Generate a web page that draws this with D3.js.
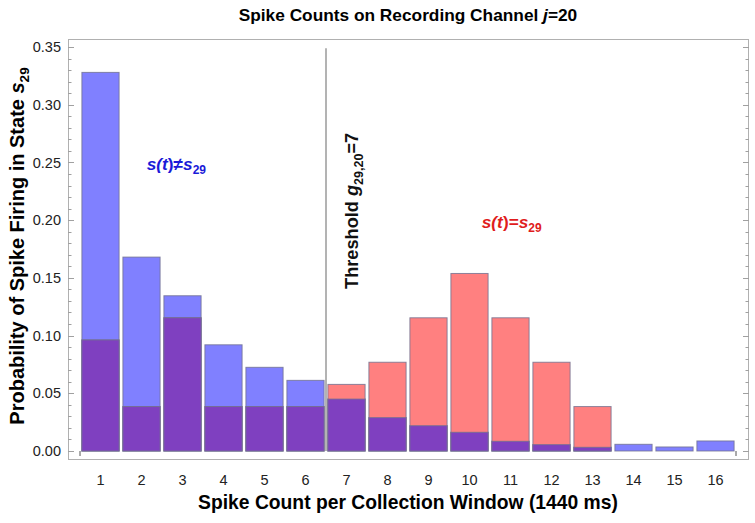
<!DOCTYPE html>
<html>
<head>
<meta charset="utf-8">
<script src="https://cdn.jsdelivr.net/npm/d3@7"></script>
<style>
  body { margin: 0; background: #fff; }
  svg { font-family: "Liberation Sans", Arial, sans-serif; }
</style>
</head>
<body>
<svg id="chart" width="755" height="523"></svg>
<script>
'use strict';

// spike counts 1..16
var counts = [1, 2, 3, 4, 5, 6, 7, 8, 9, 10, 11, 12, 13, 14, 15, 16];
// s(t) != s29  (blue)
var notState = [0.328, 0.168, 0.1345, 0.092, 0.0725, 0.0612, 0.045, 0.0289, 0.0219, 0.0162, 0.0084, 0.0055, 0.0032, 0.0058, 0.0035, 0.0087];
// s(t) = s29  (red)
var inState = [0.0962, 0.0385, 0.1154, 0.0385, 0.0385, 0.0385, 0.0577, 0.0769, 0.1154, 0.1538, 0.1154, 0.0769, 0.0385, 0, 0, 0];
var yTicks = [0, 0.05, 0.10, 0.15, 0.20, 0.25, 0.30, 0.35];
var threshold = 6.5;

var svg = d3.select("#chart");
var frame = {left: 68, right: 748, top: 39, bottom: 459};

var x = d3.scaleLinear().domain([0.5, 16.5]).range([80, 736]),
    y = d3.scaleLinear().domain([0, 0.35]).range([451, 47]);

var blue = "#8080ff", red = "#ff8080", purple = "#7f40c0";

// frame
svg.append("rect")
  .attr("x", frame.left + 0.5).attr("y", frame.top + 0.5)
  .attr("width", frame.right - frame.left).attr("height", frame.bottom - frame.top)
  .attr("fill", "none").attr("stroke", "#b0b0b0").attr("stroke-width", 1);

// y ticks, inward on both sides
var minor = d3.range(0, 0.3501, 0.01);
minor.forEach(function (v) {
  var isMajor = Math.abs(Math.round(v * 20) - v * 20) < 1e-6;
  var len = isMajor ? 6 : 3.5;
  var yy = Math.round(y(v)) + 0.5;
  svg.append("line").attr("x1", frame.left).attr("x2", frame.left + len)
    .attr("y1", yy).attr("y2", yy).attr("stroke", "#a0a0a0");
  svg.append("line").attr("x1", frame.right + 1).attr("x2", frame.right + 1 - len)
    .attr("y1", yy).attr("y2", yy).attr("stroke", "#a0a0a0");
});

svg.append("g").selectAll("text").data(yTicks).enter().append("text")
  .attr("x", 61).attr("y", function (d) { return y(d); })
  .attr("dy", "0.35em").attr("text-anchor", "end")
  .attr("font-size", 14.5).attr("fill", "#222")
  .text(function (d) { return d3.format(".2f")(d); });

// x tick labels
svg.append("g").selectAll("text").data(counts).enter().append("text")
  .attr("x", function (d) { return x(d); }).attr("y", 485)
  .attr("text-anchor", "middle").attr("font-size", 14.5).attr("fill", "#222")
  .text(function (d) { return d; });

// small axis ticks at ends
[0.5, 16.5].forEach(function (v) {
  svg.append("line").attr("x1", x(v)).attr("x2", x(v))
    .attr("y1", y(0)).attr("y2", y(0) + 5).attr("stroke", "#555");
});

// bars
var bars = svg.append("g");
var inset = 1.9;
function barRect(i, v, fill) {
  bars.append("rect")
    .attr("x", x(counts[i] - 0.5) + inset)
    .attr("width", x(counts[i] + 0.5) - x(counts[i] - 0.5) - 2 * inset)
    .attr("y", y(v)).attr("height", y(0) - y(v))
    .attr("fill", fill).attr("stroke", "#707090").attr("stroke-opacity", 0.8)
    .attr("stroke-width", 1);
}
counts.forEach(function (c, i) {
  if (notState[i] > 0) barRect(i, notState[i], blue);
  if (inState[i] > 0) barRect(i, inState[i], red);
  var m = Math.min(notState[i], inState[i]);
  if (m > 0) barRect(i, m, purple);
});

// threshold line
svg.append("line")
  .attr("x1", x(threshold)).attr("x2", x(threshold))
  .attr("y1", y(0.349)).attr("y2", y(0))
  .attr("stroke", "#808080").attr("stroke-width", 1.2);

// threshold label
var th = svg.append("text")
  .attr("transform", "translate(" + (x(7.13) + 6.5) + "," + y(0.208) + ") rotate(-90)")
  .attr("text-anchor", "middle").attr("font-size", 18.2).attr("font-weight", "bold")
  .attr("fill", "#111");
th.append("tspan").text("Threshold ");
th.append("tspan").attr("font-style", "italic").text("g");
th.append("tspan").attr("font-size", 12.5).attr("dy", 4.5).text("29,20");
th.append("tspan").attr("dy", -4.5).text("=7");

// state labels
function stateLabel(cx, cy, op, color) {
  var t = svg.append("text")
    .attr("x", x(cx)).attr("y", y(cy)).attr("dy", "0.35em")
    .attr("text-anchor", "middle").attr("font-size", 17.3).attr("font-weight", "bold")
    .attr("font-style", "italic").attr("fill", color);
  t.append("tspan").text("s(");
  t.append("tspan").text("t");
  t.append("tspan").attr("font-style", "normal").text(")" + op);
  t.append("tspan").text("s");
  t.append("tspan").attr("font-style", "normal").attr("font-size", 12).attr("dy", 4).text("29");
}
stateLabel(2.85, 0.2486, "\u2260", "#1a1ad8");
stateLabel(11.03, 0.1986, "=", "#e01c1c");

// title
var title = svg.append("text")
  .attr("x", (frame.left + frame.right) / 2).attr("y", 21)
  .attr("text-anchor", "middle").attr("font-size", 17.3).attr("font-weight", "bold");
title.append("tspan").text("Spike Counts on Recording Channel ");
title.append("tspan").attr("font-style", "italic").text("j");
title.append("tspan").text("=20");

// x label
svg.append("text")
  .attr("x", (frame.left + frame.right) / 2).attr("y", 509)
  .attr("text-anchor", "middle").attr("font-size", 19.3).attr("font-weight", "bold")
  .text("Spike Count per Collection Window (1440 ms)");

// y label
var yl = svg.append("text")
  .attr("transform", "translate(24," + ((frame.top + frame.bottom) / 2 - 3) + ") rotate(-90)")
  .attr("text-anchor", "middle").attr("font-size", 20).attr("font-weight", "bold");
yl.append("tspan").text("Probability of Spike Firing in State ");
yl.append("tspan").attr("font-style", "italic").text("s");
yl.append("tspan").attr("font-size", 13.5).attr("dy", 4.5).text("29");
</script>
</body>
</html>
